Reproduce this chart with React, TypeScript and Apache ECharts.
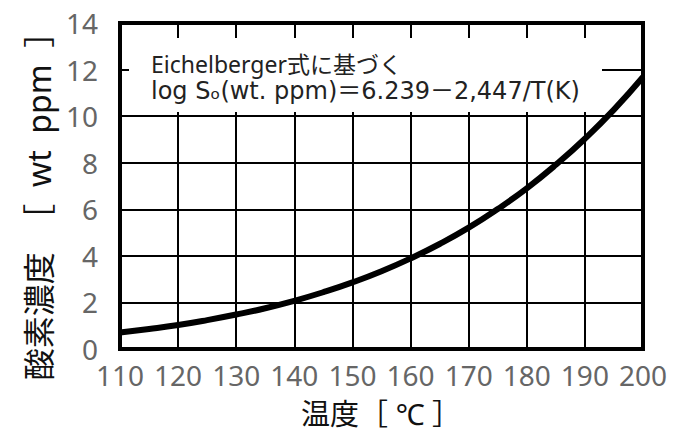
import React, { useEffect, useRef } from "react";
import * as echarts from "echarts";

const temperatures = [110, 115, 120, 125, 130, 135, 140, 145, 150, 155, 160, 165, 170, 175, 180, 185, 190, 195, 200];
const oxygenPpm = [0.71, 0.86, 1.03, 1.24, 1.48, 1.75, 2.07, 2.44, 2.86, 3.34, 3.89, 4.51, 5.21, 6.01, 6.9, 7.91, 9.03, 10.28, 11.68];
const xTitle = "温度［ ℃ ］";
const yTitle = "酸素濃度\u00a0\u00a0［\u00a0\u00a0wt\u00a0\u00a0ppm\u00a0\u00a0］";
const noteLine1 = "Eichelberger式に基づく";
const noteLine2 = "log Sₒ(wt. ppm)＝6.239－2,447/T(K)";

const FONT = "'Noto Sans', 'Noto Sans CJK JP', sans-serif";
const WIDE = "'DejaVu Sans', 'Noto Sans CJK JP', sans-serif";

export default function App() {
  const ref = useRef<HTMLDivElement>(null);
  useEffect(() => {
    if (!ref.current) return;
    const chart = echarts.init(ref.current, null, { renderer: "svg" });
    chart.setOption({
      animation: false,
      backgroundColor: "#fff",
      grid: {
        left: 120,
        top: 23,
        right: 30,
        bottom: 82,
        show: true,
        borderColor: "#000",
        borderWidth: 4,
        backgroundColor: "transparent",
      },
      xAxis: {
        type: "value",
        min: 110,
        max: 200,
        interval: 10,
        axisLine: { show: false },
        axisTick: { show: false },
        axisLabel: { fontSize: 28, color: "#666", margin: 12, fontFamily: FONT },
        splitLine: { show: true, lineStyle: { color: "#000", width: 2 } },
      },
      yAxis: {
        type: "value",
        min: 0,
        max: 14,
        interval: 2,
        axisLine: { show: false },
        axisTick: { show: false },
        axisLabel: { fontSize: 28, color: "#666", margin: 22, fontFamily: FONT },
        splitLine: { show: true, lineStyle: { color: "#000", width: 2 } },
      },
      graphic: [
        {
          type: "rect",
          z: 1,
          shape: { x: 129, y: 38, width: 473, height: 74 },
          style: { fill: "#fff" },
        },
        {
          type: "text",
          z: 1,
          x: 151,
          y: 53,
          style: {
            text: noteLine1,
            fontSize: 23,
            lineHeight: 22,
            fontFamily: FONT,
            fill: "#222",
          },
        },
        {
          type: "text",
          z: 1,
          x: 151,
          y: 80,
          style: {
            text: noteLine2,
            fontSize: 24,
            lineHeight: 22,
            fontFamily: WIDE,
            fill: "#222",
          },
        },
        {
          type: "text",
          x: 381,
          y: 413,
          style: {
            text: xTitle,
            fontSize: 29,
            fontFamily: FONT,
            fill: "#111",
            align: "center",
            verticalAlign: "middle",
          },
        },
        {
          type: "text",
          x: 38,
          y: 198,
          rotation: Math.PI / 2,
          style: {
            text: yTitle,
            fontSize: 32,
            fontFamily: FONT,
            fill: "#111",
            align: "center",
            verticalAlign: "middle",
          },
        },
      ],
      series: [
        {
          type: "line",
          z: 5,
          data: temperatures.map((t, i) => [t, oxygenPpm[i]]),
          smooth: true,
          showSymbol: false,
          lineStyle: { color: "#000", width: 6 },
        },
      ],
    });
    return () => chart.dispose();
  }, []);
  return <div ref={ref} style={{ width: 673, height: 431, position: "absolute", left: 0, top: 0 }} />;
}
